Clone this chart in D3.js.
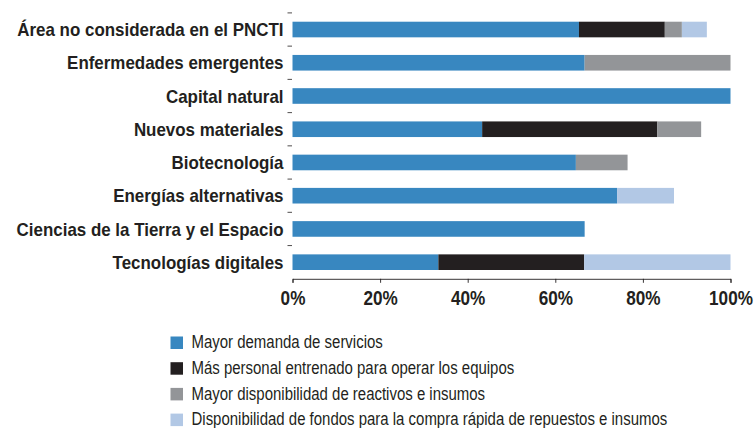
<!DOCTYPE html>
<html>
<head>
<meta charset="utf-8">
<script src="https://cdn.jsdelivr.net/npm/d3@7"></script>
<style>
  html, body { margin: 0; padding: 0; background: #fff; }
  svg { display: block; font-family: "Liberation Sans Narrow", "Arial Narrow", "Liberation Sans", sans-serif; }
</style>
</head>
<body>
<svg id="chart" width="755" height="428"></svg>
<script>
// Categories, top to bottom
const categories = [
  "Área no considerada en el PNCTI",
  "Enfermedades emergentes",
  "Capital natural",
  "Nuevos materiales",
  "Biotecnología",
  "Energías alternativas",
  "Ciencias de la Tierra y el Espacio",
  "Tecnologías digitales"
];

// Series names (legend order = stacking order)
const seriesNames = [
  "Mayor demanda de servicios",
  "Más personal entrenado para operar los equipos",
  "Mayor disponibilidad de reactivos e insumos",
  "Disponibilidad de fondos para la compra rápida de repuestos e insumos"
];

// Percentages per category, one array per series
const demandaServicios   = [65.4, 66.7, 100, 43.3, 64.7, 74.1, 66.7, 33.3];
const personalEntrenado  = [19.6, 0, 0, 40.0, 0, 0, 0, 33.3];
const reactivosInsumos   = [3.9, 33.3, 0, 10.0, 11.8, 0, 0, 0];
const fondosRepuestos    = [5.7, 0, 0, 0, 0, 13.0, 0, 33.4];

const tickValues = [0, 20, 40, 60, 80, 100];
const tickLabels = ["0%", "20%", "40%", "60%", "80%", "100%"];

const colors = ["#3887c0", "#231f20", "#939598", "#b2c8e5"];

const seriesValues = [demandaServicios, personalEntrenado, reactivosInsumos, fondosRepuestos];
const keys = seriesNames;
const table = categories.map((c, i) => {
  const row = { category: c };
  keys.forEach((k, j) => { row[k] = seriesValues[j][i]; });
  return row;
});

// Squeeze text horizontally to get a condensed face
function condense(sel, k) {
  sel.each(function () {
    const w = this.getComputedTextLength();
    d3.select(this)
      .attr("textLength", w * k)
      .attr("lengthAdjust", "spacingAndGlyphs");
  });
}

const svg = d3.select("#chart");
const margin = { left: 292.5, right: 24.5, top: 12.9, bottom: 149.2 };
const W = 755, H = 428;

const x = d3.scaleLinear().domain([0, 100]).range([margin.left, W - margin.right]);
const y = d3.scaleBand().domain(categories)
  .range([margin.top, H - margin.bottom])
  .paddingInner(0.53).paddingOuter(0.265);

const color = d3.scaleOrdinal().domain(keys).range(colors);
const stacked = d3.stack().keys(keys)(table);

// Bars
svg.append("g")
  .selectAll("g")
  .data(stacked)
  .join("g")
    .attr("fill", d => color(d.key))
  .selectAll("rect")
  .data(d => d.filter(s => s[1] - s[0] > 0))
  .join("rect")
    .attr("x", d => x(d[0]))
    .attr("y", d => y(d.data.category))
    .attr("width", d => x(d[1]) - x(d[0]))
    .attr("height", y.bandwidth());

// Category tick marks at band boundaries
const step = y.step();
const bandTop = c => y(c) - y.paddingInner() * step / 2;
svg.append("g")
  .selectAll("line")
  .data(categories)
  .join("line")
    .attr("x1", x(0) - 5)
    .attr("x2", x(0) - 0.5)
    .attr("y1", d => bandTop(d))
    .attr("y2", d => bandTop(d))
    .attr("stroke", "#231f20")
    .attr("stroke-width", 0.8);

// Category labels
svg.append("g")
  .selectAll("text")
  .data(categories)
  .join("text")
    .attr("x", x(0) - 9)
    .attr("y", d => y(d) + y.bandwidth() / 2)
    .attr("dy", "0.36em")
    .attr("text-anchor", "end")
    .attr("font-size", 18.5)
    .attr("font-weight", "bold")
    .attr("fill", "#231f20")
    .text(d => d)
    .call(condense, 0.915);

// X axis
const axisY = H - margin.bottom;
const xAxis = d3.axisBottom(x)
  .tickValues(tickValues)
  .tickFormat((d, i) => tickLabels[i])
  .tickSize(4)
  .tickPadding(8);

const gx = svg.append("g")
  .attr("transform", `translate(0,${axisY})`)
  .call(xAxis);
gx.select(".domain").attr("stroke", "#231f20").attr("stroke-width", 0.9);
gx.selectAll(".tick line").attr("stroke", "#231f20").attr("stroke-width", 0.9);
// Tick labels are centred on x = 0 in each tick group, so a horizontal
// scale keeps them centred under their tick
gx.selectAll(".tick text")
  .attr("font-family", "inherit")
  .attr("font-size", 19.5)
  .attr("font-weight", "bold")
  .attr("fill", "#231f20")
  .attr("transform", "scale(0.88,1)");

// Legend
const legend = svg.append("g").attr("transform", "translate(170.5,336.5)");
const item = legend.selectAll("g")
  .data(keys)
  .join("g")
    .attr("transform", (d, i) => `translate(0,${i * 25.7})`);
item.append("rect")
  .attr("width", 12.5)
  .attr("height", 12.5)
  .attr("fill", d => color(d));
item.append("text")
  .attr("x", 21)
  .attr("y", 6.25)
  .attr("dy", "0.31em")
  .attr("font-size", 17.5)
  .attr("fill", "#231f20")
  .text(d => d)
  .call(condense, 0.855);
</script>
</body>
</html>
